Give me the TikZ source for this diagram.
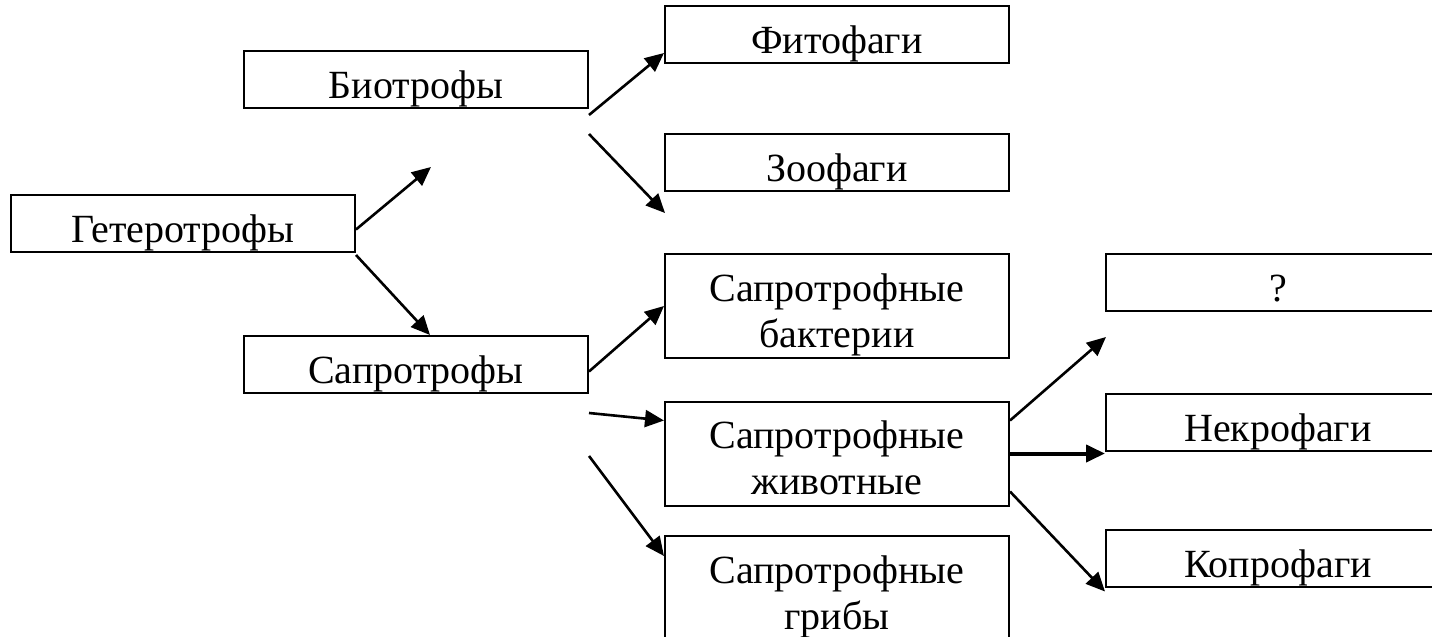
\documentclass[tikz,border=0pt]{standalone}
\usepackage{fontspec}
\setmainfont{Liberation Serif}
\usetikzlibrary{arrows.meta}

\begin{document}
\begin{tikzpicture}[
x=0.5pt, y=-0.5pt,
box/.style={rectangle, draw, line width=1pt, minimum width=172pt, minimum height=28.5pt, inner sep=0pt, align=center, font=\fontsize{20}{23}\selectfont, text height=23pt, text depth=4pt},
tallbox/.style={box, minimum height=52pt, text height=45pt, text depth=4pt},
arrow/.style={-{Triangle[length=9.5pt, width=8.5pt]}, line width=1.3pt}
]
\useasboundingbox (0,0) rectangle (1432,637);
\clip (0,0) rectangle (1432,637);
\node[box] (het) at (183,223.5) {Гетеротрофы};
\node[box] (bio) at (416,79.5) {Биотрофы};
\node[box] (sap) at (416,364.5) {Сапротрофы};
\node[box] (fito) at (837,34.5) {Фитофаги};
\node[box] (zoo) at (837,162) {Зоофаги};
\node[tallbox] (bact) at (837,306) {Сапротрофные\\бактерии};
\node[tallbox] (anim) at (837,453.5) {Сапротрофные\\животные};
\node[tallbox] (grib) at (837,588) {Сапротрофные\\грибы};
\node[box] (quest) at (1278,282.5) {?};
\node[box] (nekro) at (1278,422.5) {Некрофаги};
\node[box] (kopro) at (1278,558) {Копрофаги};
% free arrow ends
\coordinate (bioin) at (431,167);
\coordinate (zooin) at (665,213);
\coordinate (questin) at (1106,337);
\draw[arrow] ([yshift=-3pt]het.east) -- (bioin);
\draw[arrow] ([yshift=-1pt]het.south east) -- ([xshift=7pt]sap.north);
\draw[arrow] ([yshift=-3pt]bio.south east) -- ([yshift=5.5pt]fito.south west);
\draw[arrow] ([yshift=-12.5pt]bio.south east) -- (zooin);
\draw[arrow] ([yshift=-3.5pt]sap.east) -- (bact.west);
\draw[arrow] ([yshift=-9.5pt]sap.south east) -- ([yshift=-10pt]anim.north west);
\draw[arrow] ([yshift=-31pt]sap.south east) -- ([yshift=-10.5pt]grib.north west);
\draw[arrow] ([yshift=-10pt]anim.north east) -- (questin);
\draw[arrow, line width=2pt] (anim.east) -- (anim.east -| nekro.west);
\draw[arrow] ([yshift=7.5pt]anim.south east) -- ([yshift=-2pt]kopro.south west);
\end{tikzpicture}
\end{document}
